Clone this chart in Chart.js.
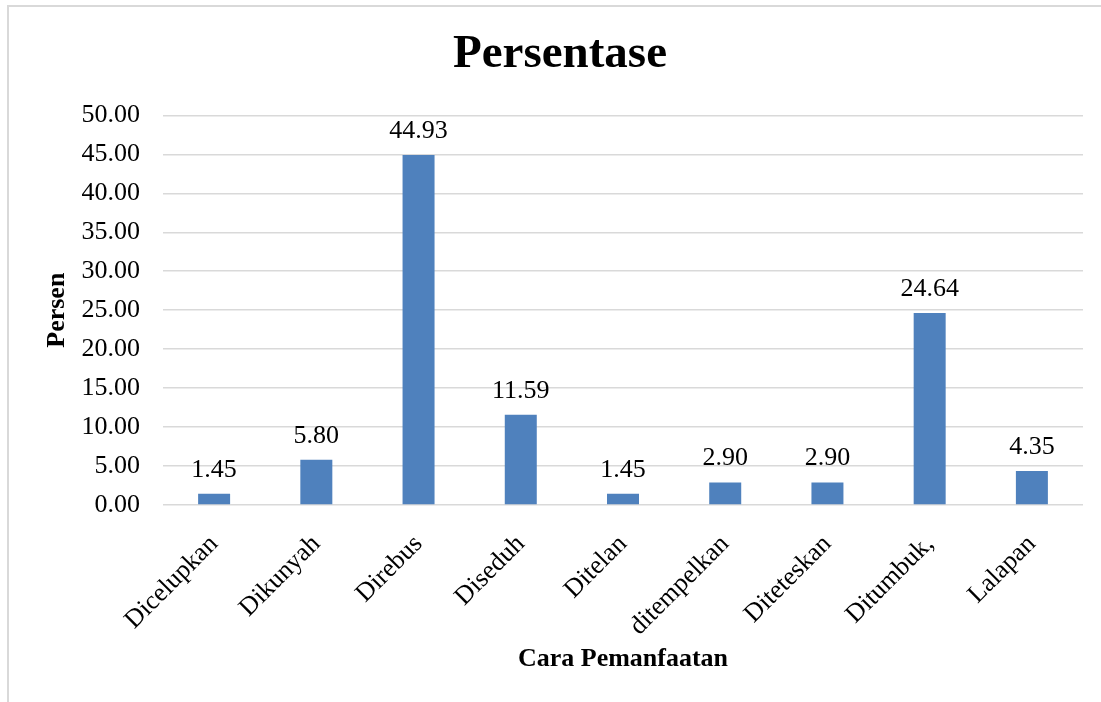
<!DOCTYPE html>
<html>
<head>
<meta charset="utf-8">
<script src="https://cdn.jsdelivr.net/npm/chart.js@4.4.1/dist/chart.umd.min.js"></script>
<style>
	html, body { margin: 0; padding: 0; background: #fff; }
	#wrap { position: relative; width: 1101px; height: 702px; }
	#frame { position: absolute; left: 7px; top: 5px; right: 0; bottom: 0; border-left: 2px solid #d9d9d9; border-top: 2px solid #d9d9d9; }
	canvas { position: absolute; left: 0; top: 0; }
</style>
</head>
<body>
<div id="wrap">
	<div id="frame"></div>
	<canvas id="bar-chart" width="1101" height="702"></canvas>
</div>
<script>
const categories = ['Dicelupkan', 'Dikunyah', 'Direbus', 'Diseduh', 'Ditelan', 'ditempelkan', 'Diteteskan', 'Ditumbuk,', 'Lalapan'];
const persen = [1.45, 5.80, 44.93, 11.59, 1.45, 2.90, 2.90, 24.64, 4.35];

const FONT = "'Liberation Serif', 'Times New Roman', serif";

// etiquettes des valeurs au-dessus des barres
const valueLabels = {
	id: 'valueLabels',
	afterDatasetsDraw(chart) {
		const ctx = chart.ctx;
		const meta = chart.getDatasetMeta(0);
		ctx.save();
		ctx.font = '26px ' + FONT;
		ctx.fillStyle = '#000';
		ctx.textAlign = 'center';
		ctx.textBaseline = 'alphabetic';
		meta.data.forEach((bar, i) => {
			ctx.fillText(persen[i].toFixed(2), bar.x, bar.y - 17);
		});
		ctx.restore();
	},
};

const ctx = document.getElementById('bar-chart').getContext('2d');
new Chart(ctx, {
	type: 'bar',
	data: {
		labels: categories,
		datasets: [
			{
				label: 'Persentase',
				data: persen,
				backgroundColor: '#4F81BD',
				borderWidth: 0,
				categoryPercentage: 1,
				barPercentage: 0.313,
			},
		],
	},
	options: {
		responsive: false,
		animation: false,
		layout: { padding: { left: 37, right: 18, top: 0, bottom: 0 } },
		plugins: {
			legend: { display: false },
			tooltip: { enabled: false },
			title: {
				display: true,
				text: 'Persentase',
				color: '#000',
				font: { family: FONT, size: 47, weight: 'bold' },
				padding: { top: 27, bottom: 32 },
			},
		},
		scales: {
			x: {
				grid: { display: false, drawTicks: false },
				border: { display: false },
				ticks: {
					color: '#000',
					font: { family: FONT, size: 26 },
					minRotation: 45,
					maxRotation: 45,
					padding: 24,
				},
				title: {
					display: true,
					text: 'Cara Pemanfaatan',
					color: '#000',
					font: { family: FONT, size: 26, weight: 'bold' },
					padding: { top: 0, bottom: 27 },
				},
				afterFit(scale) { scale.height = 197; },
			},
			y: {
				min: 0,
				max: 50,
				grid: { color: '#d9d9d9', lineWidth: 1.5, drawTicks: false },
				border: { display: false },
				ticks: {
					stepSize: 5,
					color: '#000',
					font: { family: FONT, size: 26 },
					padding: 23,
					callback: (v) => Number(v).toFixed(2),
				},
				title: {
					display: true,
					text: 'Persen',
					color: '#000',
					font: { family: FONT, size: 26, weight: 'bold' },
					padding: { top: 5, bottom: 0 },
				},
				afterFit(scale) { scale.width = 126; },
			},
		},
	},
	plugins: [valueLabels],
});
</script>
</body>
</html>
